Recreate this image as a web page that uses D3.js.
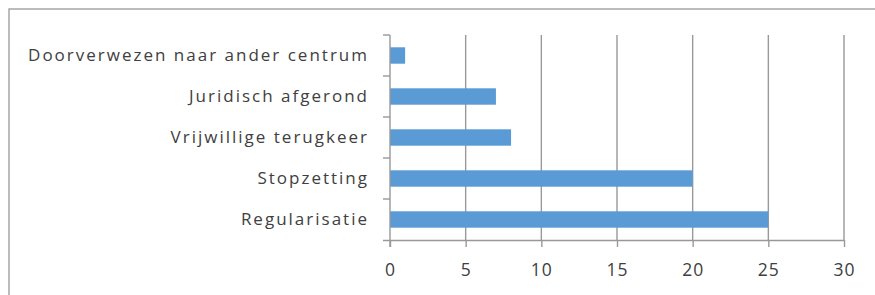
<!DOCTYPE html>
<html><head><meta charset="utf-8">
<script src="https://cdn.jsdelivr.net/npm/d3@7"></script>
<style>html,body{margin:0;padding:0;background:#fff;}svg{display:block;}</style>
</head><body><svg id="c" width="875" height="295"></svg>
<script>
const categories = ["Doorverwezen naar ander centrum","Juridisch afgerond","Vrijwillige terugkeer","Stopzetting","Regularisatie"];
const values = [1, 7, 8, 20, 25];
const xTicks = [0, 5, 10, 15, 20, 25, 30];

(function(){
const svg = d3.select("#c");
const font = "'Open Sans', sans-serif";
const pL = 390, pR = 844, pT = 35, pB = 240;

// outer frame
svg.append("path").attr("d", "M9,295 V9 H875").attr("fill","none").attr("stroke","#a6a6a6").attr("stroke-width",1.5);

const x = d3.scaleLinear().domain([0,30]).range([pL,pR]);
const y = d3.scaleBand().domain(categories).range([pT,pB]).paddingInner(0.6).paddingOuter(0.3);

// gridlines
svg.append("g").selectAll("line").data(xTicks.filter(d=>d>0)).join("line")
  .attr("x1",d=>x(d)).attr("x2",d=>x(d)).attr("y1",pT).attr("y2",pB)
  .attr("stroke","#999").attr("stroke-width",1.4);

// bars
svg.append("g").selectAll("rect").data(values).join("rect")
  .attr("x",x(0)).attr("y",(d,i)=>y(categories[i]))
  .attr("width",d=>x(d)-x(0)).attr("height",y.bandwidth())
  .attr("fill","#5b9bd5");

// x axis
const xa = svg.append("g").attr("transform",`translate(0,${pB})`)
  .call(d3.axisBottom(x).tickValues(xTicks).tickSize(7).tickPadding(17).tickSizeOuter(0));
xa.select(".domain").attr("stroke","#999").attr("stroke-width",1.4).attr("d",`M${pL-7},0.5H${pR}`);
xa.selectAll(".tick line").attr("stroke","#999").attr("stroke-width",1.4);
xa.selectAll(".tick text").attr("fill","#404040").style("font-family",font).style("font-size","17.5px").style("letter-spacing","1px");

// y axis
const step = (pB-pT)/categories.length;
const ya = svg.append("g").attr("transform",`translate(${pL},0)`)
  .call(d3.axisLeft(y).tickSize(0).tickPadding(21));
ya.select(".domain").attr("stroke","#999").attr("stroke-width",1.4).attr("d",`M0,${pT}V${pB+7}`);
ya.selectAll(".tick text").attr("fill","#404040").style("font-family",font).style("font-size","17px").style("letter-spacing","2px");
svg.append("g").selectAll("line").data(d3.range(categories.length)).join("line")
  .attr("x1",pL-7).attr("x2",pL).attr("y1",i=>pT+i*step).attr("y2",i=>pT+i*step)
  .attr("stroke","#999").attr("stroke-width",1.4);
})();
</script></body></html>
